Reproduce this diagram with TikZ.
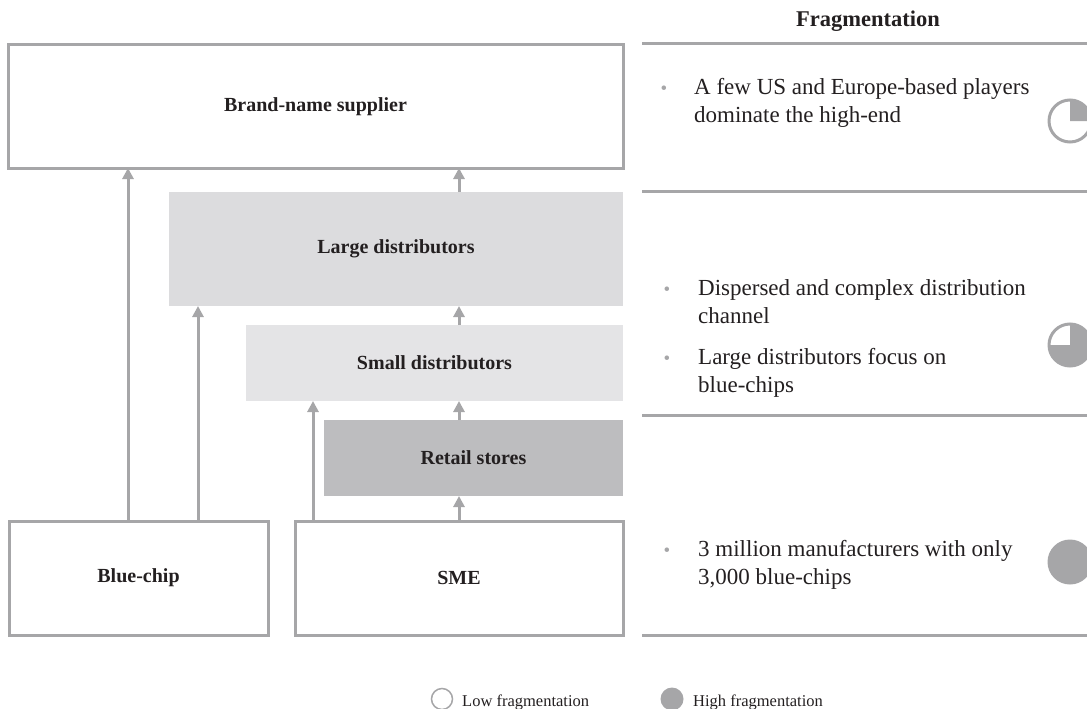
\documentclass[tikz,border=0pt]{standalone}
\usepackage{fontspec}
\setmainfont{Liberation Serif}
\usetikzlibrary{arrows.meta,calc}
\definecolor{rule}{HTML}{A6A6A8}
\definecolor{largefill}{HTML}{DCDCDE}
\definecolor{smallfill}{HTML}{E4E4E6}
\definecolor{retailfill}{HTML}{BDBDBF}
\definecolor{ink}{HTML}{231F20}
\tikzset{
  box/.style={draw=rule, line width=3pt, rectangle, inner sep=0pt, outer sep=0pt,
    font=\fontsize{20}{24}\selectfont\bfseries, text=ink},
  band/.style={rectangle, inner sep=0pt, outer sep=0pt,
    font=\fontsize{20}{24}\selectfont\bfseries, text=ink},
  flow/.style={draw=rule, line width=3pt, -{Triangle[length=11pt,width=11pt]}},
  sep/.style={draw=rule, line width=3pt},
  % multi-line notes are placed by the baseline of their last line
  note/.style={anchor=base west, inner sep=0pt, align=left, text=ink,
    font=\fontsize{23}{28}\selectfont},
  dot/.style={anchor=base, inner sep=0pt, text=rule, font=\fontsize{19}{28}\selectfont},
  legend/.style={anchor=base west, inner sep=0pt, text=ink, font=\fontsize{16.5}{20}\selectfont},
}
\begin{document}
\begin{tikzpicture}[x=1pt,y=-1pt]
\useasboundingbox (0,0) rectangle (1087,709);

% value chain boxes
\node[box, minimum width=615, minimum height=123] (brand) at (315.5,106.5) {Brand-name supplier};
\node[band, fill=largefill, minimum width=454, minimum height=114] (large) at (396,249) {Large distributors};
\node[band, fill=smallfill, minimum width=377, minimum height=76] (small) at (434.5,363) {Small distributors};
\node[band, fill=retailfill, minimum width=299, minimum height=76] (retail) at (473.5,458) {Retail stores};
\node[box, minimum width=259, minimum height=114] (blue) at (138.5,578) {Blue-chip};
\node[box, minimum width=328, minimum height=114] (sme) at (459,578) {SME};

% columns of the connectors
\coordinate (c1) at (128,0);
\coordinate (c2) at (198,0);
\coordinate (c3) at (313,0);
\coordinate (c4) at (459,0);

\draw[flow] (c1 |- blue.north) -- (c1 |- brand.south);
\draw[flow] (c2 |- blue.north) -- (c2 |- large.south);
\draw[flow] (c3 |- sme.north) -- (c3 |- small.south);
\draw[flow] (c4 |- sme.north) -- (c4 |- retail.south);
\draw[flow] (c4 |- retail.north) -- (c4 |- small.south);
\draw[flow] (c4 |- small.north) -- (c4 |- large.south);
\draw[flow] (c4 |- large.north) -- (c4 |- brand.south);

% fragmentation column
\node[anchor=base, inner sep=0pt, text=ink, font=\fontsize{22.5}{24}\selectfont\bfseries] (head) at (868,27) {Fragmentation};

\coordinate (s1l) at (642,44);  \coordinate (s1r) at (1087,44);
\coordinate (s2l) at (642,191); \coordinate (s2r) at (1087,191);
\coordinate (s3l) at (642,415); \coordinate (s3r) at (1087,415);
\coordinate (s4l) at (642,635); \coordinate (s4r) at (1087,635);
\draw[sep] (s1l) -- (s1r);
\draw[sep] (s2l) -- (s2r);
\draw[sep] (s3l) -- (s3r);
\draw[sep] (s4l) -- (s4r);

\node[dot] (d1) at (664,94) {•};
\node[note] (t1) at (694,122) {A few US and Europe-based players\\dominate the high-end};
\node[dot] (d2) at (667,295) {•};
\node[note] (t2) at (698,323) {Dispersed and complex distribution\\channel};
\node[dot] (d3) at (667,364) {•};
\node[note] (t3) at (698,392) {Large distributors focus on\\blue-chips};
\node[dot] (d4) at (667,556) {•};
\node[note] (t4) at (698,584) {3 million manufacturers with only\\3,000 blue-chips};

% harvey balls
\coordinate (h1) at (1070,121);
\coordinate (h2) at (1070,345);
\coordinate (h3) at (1070,562);
\fill[rule] (h1) -- ++(-90:21) arc[start angle=-90,end angle=0,radius=21] -- cycle;
\draw[rule, line width=3pt] (h1) circle[radius=21];
\fill[rule] (h2) -- ++(-90:21) arc[start angle=-90,end angle=180,radius=21] -- cycle;
\draw[rule, line width=3pt] (h2) circle[radius=21];
\fill[rule] (h3) circle[radius=22.5];

% legend
\coordinate (l1) at (442,699);
\coordinate (l2) at (672,699);
\draw[rule, line width=1.5pt] (l1) circle[radius=10.5];
\fill[rule] (l2) circle[radius=11.5];
\node[legend] (lowtxt) at (462,706) {Low fragmentation};
\node[legend] (hightxt) at (693,706) {High fragmentation};
\end{tikzpicture}
\end{document}
